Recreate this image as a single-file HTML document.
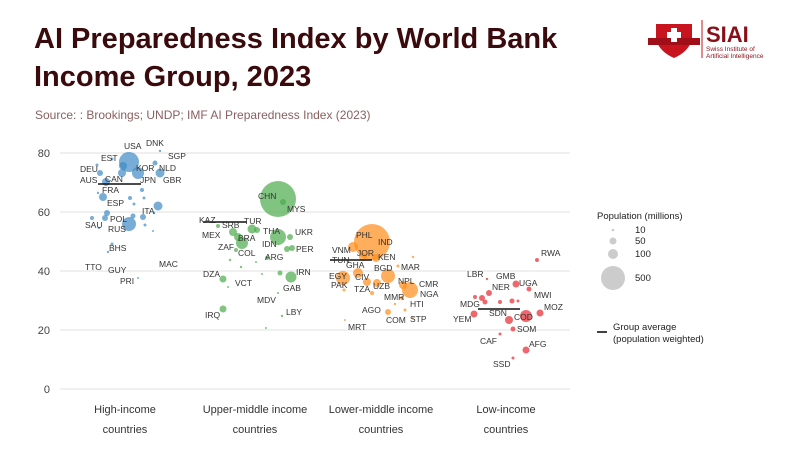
<!DOCTYPE html>
<html><head><meta charset="utf-8"><style>
body{margin:0;width:800px;height:450px;background:#fff;overflow:hidden}
svg{display:block}
.l{font-family:"Liberation Sans",sans-serif;font-size:8.5px;fill:#333}
</style></head><body>
<svg width="800" height="450" xmlns="http://www.w3.org/2000/svg">
<text x="34" y="48" font-family="Liberation Sans,sans-serif" font-weight="bold" font-size="29" fill="#3a0a0c">AI Preparedness Index by World Bank</text>
<text x="34" y="86" font-family="Liberation Sans,sans-serif" font-weight="bold" font-size="29" fill="#3a0a0c">Income Group, 2023</text>
<text x="35" y="119" font-family="Liberation Sans,sans-serif" font-size="12" fill="#8a6060">Source: : Brookings; UNDP; IMF AI Preparedness Index (2023)</text>
<!-- logo -->
<path d="M656 24 h36 v16 q-4 12 -18 18 q-14 -6 -18 -18z" fill="#c8141e"/>
<rect x="648" y="38" width="52" height="7" fill="#a00f18"/>
<rect x="671" y="28" width="6" height="14" fill="#fff"/><rect x="667" y="32" width="14" height="6" fill="#fff"/>
<line x1="702" y1="20" x2="702" y2="58" stroke="#c8141e" stroke-width="1"/>
<text x="706" y="42" font-family="Liberation Sans,sans-serif" font-weight="bold" font-size="22" fill="#8a0f18">SIAI</text>
<text x="706" y="51" font-family="Liberation Sans,sans-serif" font-size="6.5" fill="#8a0f18">Swiss Institute of</text>
<text x="706" y="58" font-family="Liberation Sans,sans-serif" font-size="6.5" fill="#8a0f18">Artificial Intelligence</text>
<!-- grid -->
<g stroke="#ececec" stroke-width="1.5">
<line x1="60" y1="153" x2="570" y2="153"/><line x1="60" y1="212" x2="570" y2="212"/><line x1="60" y1="271" x2="570" y2="271"/><line x1="60" y1="330" x2="570" y2="330"/><line x1="60" y1="389" x2="570" y2="389"/>
</g>
<g font-family="Liberation Sans,sans-serif" font-size="11" fill="#444" text-anchor="end">
<text x="50" y="157">80</text><text x="50" y="216">60</text><text x="50" y="275">40</text><text x="50" y="334">20</text><text x="50" y="393">0</text>
</g>
<g font-family="Liberation Sans,sans-serif" font-size="11" fill="#333" text-anchor="middle">
<text x="125" y="413">High-income</text><text x="125" y="433">countries</text>
<text x="255" y="413">Upper-middle income</text><text x="255" y="433">countries</text>
<text x="381" y="413">Lower-middle income</text><text x="381" y="433">countries</text>
<text x="506" y="413">Low-income</text><text x="506" y="433">countries</text>
</g>
<!-- blue -->
<g fill="#3d8ac4" fill-opacity="0.7">
<circle cx="129" cy="162" r="10"/><circle cx="123" cy="166" r="4"/><circle cx="138" cy="173" r="6"/><circle cx="160" cy="173" r="4.5"/><circle cx="122" cy="173" r="4"/><circle cx="100" cy="173" r="3"/><circle cx="106" cy="182" r="4"/><circle cx="103" cy="197" r="4"/><circle cx="158" cy="206" r="4.5"/><circle cx="107" cy="213" r="3"/><circle cx="105" cy="218" r="3"/><circle cx="129" cy="224" r="7"/><circle cx="133" cy="216" r="2.5"/><circle cx="143" cy="217" r="3"/><circle cx="155" cy="163" r="2.5"/><circle cx="112" cy="159" r="1.5"/><circle cx="97" cy="165" r="1.5"/><circle cx="160" cy="151" r="1.2"/><circle cx="142" cy="190" r="2"/><circle cx="130" cy="198" r="2"/><circle cx="144" cy="198" r="1.5"/><circle cx="134" cy="204" r="1.5"/><circle cx="145" cy="225" r="1.5"/><circle cx="92" cy="218" r="2"/><circle cx="99" cy="228" r="1.2"/><circle cx="112" cy="244" r="1.5"/><circle cx="108" cy="252" r="1.2"/><circle cx="154" cy="213" r="1.2"/><circle cx="153" cy="231" r="1"/><circle cx="138" cy="278" r="1"/><circle cx="98" cy="193" r="1.2"/></g>
<!-- green -->
<g fill="#4cab4c" fill-opacity="0.7">
<circle cx="278" cy="199" r="18"/><circle cx="283" cy="202" r="3"/><circle cx="233" cy="232" r="4"/><circle cx="242" cy="243" r="6"/><circle cx="238" cy="237" r="4"/><circle cx="252" cy="229" r="4.5"/><circle cx="257" cy="230" r="3"/><circle cx="278" cy="237" r="8"/><circle cx="290" cy="237" r="3"/><circle cx="292" cy="248" r="3"/><circle cx="287" cy="249" r="3"/><circle cx="218" cy="226" r="2"/><circle cx="223" cy="279" r="3.5"/><circle cx="291" cy="277" r="5.5"/><circle cx="223" cy="309" r="3.5"/><circle cx="280" cy="273" r="2.5"/><circle cx="267" cy="258" r="2"/><circle cx="282" cy="316" r="1.2"/><circle cx="236" cy="250" r="2"/><circle cx="230" cy="260" r="1.2"/><circle cx="241" cy="267" r="1.2"/><circle cx="256" cy="262" r="1"/><circle cx="262" cy="274" r="1"/><circle cx="278" cy="293" r="1"/><circle cx="266" cy="328" r="1"/><circle cx="228" cy="287" r="1"/></g>
<!-- orange -->
<g fill="#ff8c1a" fill-opacity="0.7">
<circle cx="372" cy="242" r="18"/><circle cx="353" cy="247" r="5"/><circle cx="363" cy="257" r="4"/><circle cx="376" cy="258" r="4"/><circle cx="388" cy="276" r="7"/><circle cx="358" cy="273" r="5"/><circle cx="343" cy="278" r="7"/><circle cx="367" cy="282" r="4"/><circle cx="377" cy="283" r="4"/><circle cx="410" cy="290" r="8"/><circle cx="403" cy="285" r="4"/><circle cx="388" cy="312" r="3"/><circle cx="372" cy="293" r="2"/><circle cx="344" cy="290" r="1.5"/><circle cx="402" cy="298" r="2"/><circle cx="405" cy="310" r="1.5"/><circle cx="413" cy="318" r="1.2"/><circle cx="395" cy="304" r="1.2"/><circle cx="345" cy="320" r="1"/><circle cx="413" cy="257" r="1.2"/><circle cx="398" cy="266" r="1.5"/></g>
<!-- red -->
<g fill="#e8343c" fill-opacity="0.75">
<circle cx="526" cy="316" r="6"/><circle cx="509" cy="320" r="4"/><circle cx="540" cy="313" r="3.5"/><circle cx="516" cy="284" r="3.5"/><circle cx="529" cy="289" r="2.5"/><circle cx="489" cy="293" r="3"/><circle cx="482" cy="298" r="3"/><circle cx="485" cy="302" r="2.5"/><circle cx="475" cy="297" r="2"/><circle cx="474" cy="314" r="3.5"/><circle cx="500" cy="302" r="2"/><circle cx="512" cy="301" r="2.5"/><circle cx="518" cy="301" r="1.5"/><circle cx="513" cy="329" r="2.5"/><circle cx="526" cy="350" r="3.5"/><circle cx="513" cy="358" r="1.5"/><circle cx="537" cy="260" r="2"/><circle cx="500" cy="334" r="1.5"/><circle cx="487" cy="279" r="1.2"/></g>
<!-- averages -->
<g stroke="#111" stroke-width="1.6">
<line x1="98" y1="184" x2="141" y2="184"/><line x1="203" y1="222" x2="247" y2="222"/><line x1="330" y1="260" x2="372" y2="260"/><line x1="478" y1="309" x2="520" y2="309"/></g>
<!-- labels -->
<g class="l">
<text x="124" y="149">USA</text><text x="146" y="146">DNK</text><text x="168" y="159">SGP</text><text x="101" y="161">EST</text><text x="80" y="172">DEU</text><text x="136" y="171">KOR</text><text x="159" y="171">NLD</text><text x="80" y="183">AUS</text><text x="105" y="182">CAN</text><text x="140" y="183">JPN</text><text x="163" y="183">GBR</text><text x="102" y="193">FRA</text><text x="107" y="206">ESP</text><text x="142" y="214">ITA</text><text x="110" y="222">POL</text><text x="85" y="228">SAU</text><text x="108" y="232">RUS</text><text x="109" y="251">BHS</text><text x="85" y="270">TTO</text><text x="108" y="273">GUY</text><text x="159" y="267">MAC</text><text x="120" y="284">PRI</text>
<text x="258" y="199">CHN</text><text x="287" y="212">MYS</text><text x="199" y="223">KAZ</text><text x="222" y="228">SRB</text><text x="244" y="224">TUR</text><text x="202" y="238">MEX</text><text x="238" y="241">BRA</text><text x="263" y="234">THA</text><text x="295" y="235">UKR</text><text x="218" y="250">ZAF</text><text x="238" y="256">COL</text><text x="262" y="247">IDN</text><text x="296" y="252">PER</text><text x="265" y="260">ARG</text><text x="203" y="277">DZA</text><text x="235" y="286">VCT</text><text x="296" y="275">IRN</text><text x="283" y="291">GAB</text><text x="257" y="303">MDV</text><text x="286" y="315">LBY</text><text x="205" y="318">IRQ</text>
<text x="356" y="238">PHL</text><text x="378" y="245">IND</text><text x="332" y="253">VNM</text><text x="332" y="255" dy="8">TUN</text><text x="357" y="256">JOR</text><text x="378" y="260">KEN</text><text x="346" y="268">GHA</text><text x="374" y="271">BGD</text><text x="401" y="270">MAR</text><text x="329" y="279">EGY</text><text x="355" y="280">CIV</text><text x="398" y="284">NPL</text><text x="331" y="288">PAK</text><text x="354" y="292">TZA</text><text x="373" y="289">UZB</text><text x="419" y="287">CMR</text><text x="420" y="297">NGA</text><text x="384" y="300">MMR</text><text x="410" y="307">HTI</text><text x="362" y="313">AGO</text><text x="386" y="323">COM</text><text x="410" y="322">STP</text><text x="348" y="330">MRT</text>
<text x="541" y="256">RWA</text><text x="467" y="277">LBR</text><text x="496" y="279">GMB</text><text x="492" y="290">NER</text><text x="519" y="286">UGA</text><text x="534" y="298">MWI</text><text x="460" y="307">MDG</text><text x="544" y="310">MOZ</text><text x="453" y="322">YEM</text><text x="489" y="316">SDN</text><text x="514" y="320">COD</text><text x="517" y="332">SOM</text><text x="480" y="344">CAF</text><text x="529" y="347">AFG</text><text x="493" y="367">SSD</text>
</g>
<!-- legend -->
<g font-family="Liberation Sans,sans-serif" font-size="9.5" fill="#222">
<text x="597" y="219">Population (millions)</text>
<circle cx="613" cy="230" r="1.3" fill="#ccc"/><text x="635" y="233">10</text>
<circle cx="613" cy="241" r="3.5" fill="#ccc"/><text x="635" y="244">50</text>
<circle cx="613" cy="254" r="5" fill="#ccc"/><text x="635" y="257">100</text>
<circle cx="613" cy="278" r="12" fill="#ccc"/><text x="635" y="281">500</text>
<line x1="597" y1="332" x2="607" y2="332" stroke="#111" stroke-width="1.6"/>
<text x="613" y="330">Group average</text><text x="613" y="342">(population weighted)</text>
</g>
</svg>
</body></html>
